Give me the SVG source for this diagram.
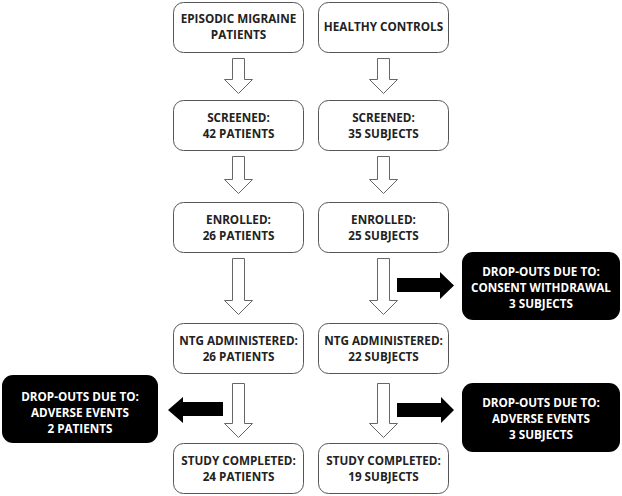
<svg xmlns="http://www.w3.org/2000/svg" width="622" height="496" viewBox="0 0 622 496">
<style>
.box{fill:#fff;stroke:#555;stroke-width:1}
.dbox{fill:#000;stroke:none}
.t{font-family:"Open Sans","Liberation Sans",sans-serif;font-weight:bold;font-size:11.7px;text-anchor:middle;fill:#222}
.tw{font-family:"Open Sans","Liberation Sans",sans-serif;font-weight:bold;font-size:11.7px;text-anchor:middle;fill:#fff}
.wa{fill:#fff;stroke:#666;stroke-width:1}
.ba{fill:#000;stroke:none}
</style>
<rect width="622" height="496" fill="#fff"/>
<g id="n_em"><rect class="box" x="173.5" y="2.5" width="130" height="50" rx="10"/><text class="t" x="238.5" y="23">EPISODIC MIGRAINE</text><text class="t" x="238.5" y="39">PATIENTS</text></g>
<g id="n_hc"><rect class="box" x="318.5" y="2.5" width="130" height="50" rx="10"/><text class="t" x="383.5" y="31">HEALTHY CONTROLS</text></g>
<g id="n_s1"><rect class="box" x="173.5" y="100.5" width="130" height="50" rx="10"/><text class="t" x="238.5" y="122">SCREENED:</text><text class="t" x="238.5" y="138">42 PATIENTS</text></g>
<g id="n_s2"><rect class="box" x="318.5" y="100.5" width="130" height="50" rx="10"/><text class="t" x="383.5" y="122">SCREENED:</text><text class="t" x="383.5" y="138">35 SUBJECTS</text></g>
<g id="n_e1"><rect class="box" x="173.5" y="202.5" width="130" height="50" rx="10"/><text class="t" x="238.5" y="224">ENROLLED:</text><text class="t" x="238.5" y="240">26 PATIENTS</text></g>
<g id="n_e2"><rect class="box" x="318.5" y="202.5" width="130" height="50" rx="10"/><text class="t" x="383.5" y="224">ENROLLED:</text><text class="t" x="383.5" y="240">25 SUBJECTS</text></g>
<g id="n_n1"><rect class="box" x="173.5" y="323.5" width="130" height="50" rx="10"/><text class="t" x="238.5" y="345">NTG ADMINISTERED:</text><text class="t" x="238.5" y="361">26 PATIENTS</text></g>
<g id="n_n2"><rect class="box" x="318.5" y="323.5" width="130" height="50" rx="10"/><text class="t" x="383.5" y="345">NTG ADMINISTERED:</text><text class="t" x="383.5" y="361">22 SUBJECTS</text></g>
<g id="n_c1"><rect class="box" x="173.5" y="443.5" width="130" height="50" rx="10"/><text class="t" x="238.5" y="465">STUDY COMPLETED:</text><text class="t" x="238.5" y="481">24 PATIENTS</text></g>
<g id="n_c2"><rect class="box" x="318.5" y="443.5" width="130" height="50" rx="10"/><text class="t" x="383.5" y="465">STUDY COMPLETED:</text><text class="t" x="383.5" y="481">19 SUBJECTS</text></g>
<g id="n_d1"><rect class="dbox" x="462" y="252" width="158" height="68" rx="11"/><text class="tw" x="541" y="276">DROP-OUTS DUE TO:</text><text class="tw" x="541" y="292">CONSENT WITHDRAWAL</text><text class="tw" x="541" y="308">3 SUBJECTS</text></g>
<g id="n_d2"><rect class="dbox" x="462" y="383" width="158" height="69" rx="11"/><text class="tw" x="541" y="407">DROP-OUTS DUE TO:</text><text class="tw" x="541" y="423">ADVERSE EVENTS</text><text class="tw" x="541" y="439">3 SUBJECTS</text></g>
<g id="n_d3"><rect class="dbox" x="2" y="375" width="156" height="68" rx="11"/><text class="tw" x="80" y="401">DROP-OUTS DUE TO:</text><text class="tw" x="80" y="417">ADVERSE EVENTS</text><text class="tw" x="80" y="433">2 PATIENTS</text></g>
<g id="connectors">
<path class="wa" d="M232.5 58.5H244.5V79.5H252.5L238.5 93.5L224.5 79.5H232.5Z"/>
<path class="wa" d="M377.5 58.5H389.5V79.5H397.5L383.5 93.5L369.5 79.5H377.5Z"/>
<path class="wa" d="M232.5 156.5H244.5V179.5H252.5L238.5 193.5L224.5 179.5H232.5Z"/>
<path class="wa" d="M377.5 156.5H389.5V179.5H397.5L383.5 193.5L369.5 179.5H377.5Z"/>
<path class="wa" d="M232.5 258.5H244.5V300.5H252.5L238.5 314.5L224.5 300.5H232.5Z"/>
<path class="wa" d="M377.5 258.5H389.5V300.5H397.5L383.5 314.5L369.5 300.5H377.5Z"/>
<path class="wa" d="M232.5 383.5H244.5V423.5H252.5L238.5 437.5L224.5 423.5H232.5Z"/>
<path class="wa" d="M377.5 383.5H389.5V423.5H397.5L383.5 437.5L369.5 423.5H377.5Z"/>
<path class="ba" d="M397 278H440V272L454 285.5L440 299V292H397Z"/>
<path class="ba" d="M397 403H441V397L454 410L441 423V417H397Z"/>
<path class="ba" d="M223 402H183V397L168 410L183 423V416H223Z"/>
</g>
</svg>
